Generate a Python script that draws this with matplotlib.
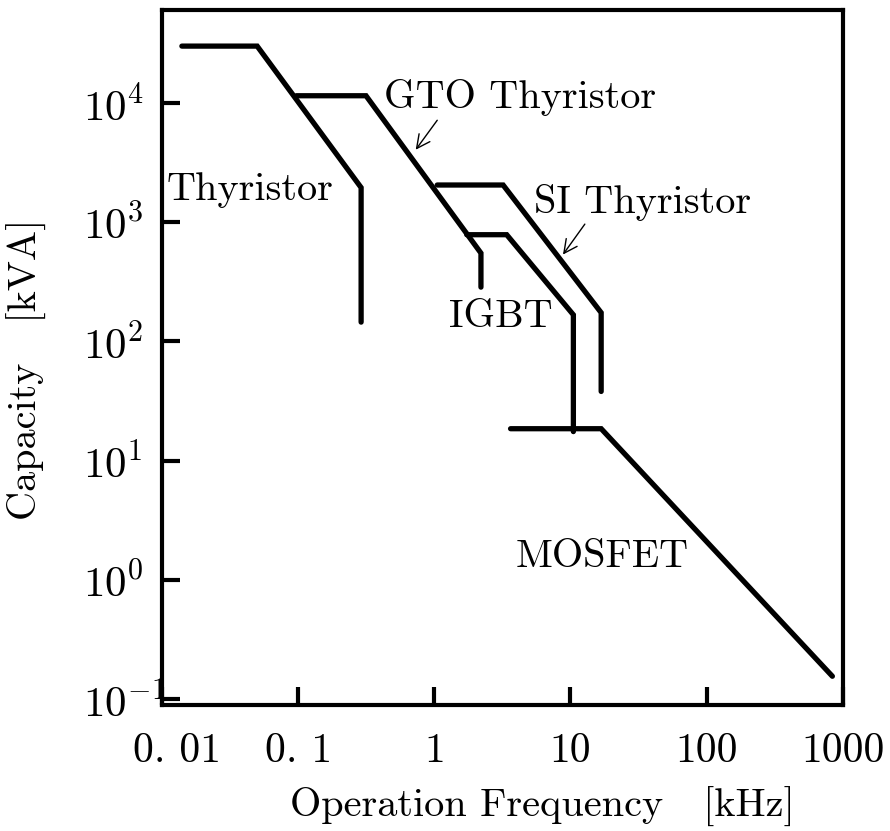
import matplotlib
matplotlib.use("Agg")
import matplotlib.pyplot as plt
import matplotlib.transforms as mtransforms
from matplotlib.ticker import FixedLocator, FixedFormatter, NullLocator

plt.rcParams['font.family'] = ['cmr10', 'DejaVu Serif']
plt.rcParams['mathtext.fontset'] = 'cm'
plt.rcParams['axes.unicode_minus'] = False

# ---- data (frequency in kHz, capacity in kVA) ----
thyristor_f = [0.014, 0.05, 0.29, 0.29]
thyristor_kva = [30000, 30000, 1950, 145]

gto_f = [0.097, 0.315, 2.2, 2.2]
gto_kva = [11500, 11500, 550, 285]

si_f = [1.05, 3.2, 16.8, 16.8]
si_kva = [2050, 2050, 174, 38]

igbt_f = [1.73, 3.4, 10.5, 10.5]
igbt_kva = [785, 785, 167, 17.5]

mosfet_f = [3.63, 16.8, 838]
mosfet_kva = [18.5, 18.5, 0.155]

x_ticks = [0.01, 0.1, 1, 10, 100, 1000]
x_ticklabels = ["0. 01", "0. 1", "1", "10", "100", "1000"]
y_ticks = [0.1, 1, 10, 100, 1000, 10000]
y_ticklabels = [r"$10^{-1}$", r"$10^{0}$", r"$10^{1}$", r"$10^{2}$", r"$10^{3}$", r"$10^{4}$"]

labels = ["Thyristor", "GTO Thyristor", "SI Thyristor", "IGBT", "MOSFET"]
label_f = [0.0109, 0.43, 5.36, 1.28, 3.95]
label_kva = [1540, 9080, 1197, 132, 1.29]

gto_arrow_tail = (1.08, 7480)
gto_arrow_head = (0.71, 3880)
si_arrow_tail = (13.1, 1006)
si_arrow_head = (8.57, 512)

# ---- figure ----
fig = plt.figure(figsize=(8.9, 8.31), dpi=100)
ax = fig.add_axes([0.182, 0.152, 0.765, 0.836])
ax.set_xscale('log')
ax.set_yscale('log')
ax.set_xlim(0.01, 1000)
ax.set_ylim(0.0895, 60300)

line_kw = dict(color='black', lw=3.8, solid_joinstyle='miter', solid_capstyle='round')
for fx, vy in [(thyristor_f, thyristor_kva), (gto_f, gto_kva), (si_f, si_kva),
               (igbt_f, igbt_kva), (mosfet_f, mosfet_kva)]:
    ax.plot(fx, vy, **line_kw)

for txt, fx, vy in zip(labels, label_f, label_kva):
    ax.text(fx, vy, txt, fontsize=29, ha='left', va='baseline', color='black')

arrow_kw = dict(arrowstyle='->', color='black', lw=1.0, mutation_scale=24)
ax.annotate('', xy=gto_arrow_head, xytext=gto_arrow_tail, arrowprops=arrow_kw)
ax.annotate('', xy=si_arrow_head, xytext=si_arrow_tail, arrowprops=arrow_kw)

# axes styling
for sp in ax.spines.values():
    sp.set_linewidth(3.0)
ax.xaxis.set_major_locator(FixedLocator(x_ticks))
ax.xaxis.set_major_formatter(FixedFormatter(x_ticklabels))
ax.yaxis.set_major_locator(FixedLocator(y_ticks))
ax.yaxis.set_major_formatter(FixedFormatter(y_ticklabels))
ax.xaxis.set_minor_locator(NullLocator())
ax.yaxis.set_minor_locator(NullLocator())
ax.tick_params(axis='both', which='major', direction='in', length=13, width=3.0,
               top=False, right=False)
ax.tick_params(axis='x', labelsize=30, pad=20)
ax.tick_params(axis='y', labelsize=31, pad=57)
for lab in ax.get_yticklabels():
    lab.set_ha('left')

first = ax.get_xticklabels()[0]
first.set_transform(first.get_transform() + mtransforms.ScaledTranslation(15/100, 0, fig.dpi_scale_trans))

ax.set_xlabel("Operation Frequency   [kHz]", fontsize=29)
ax.set_ylabel("Capacity   [kVA]", fontsize=29)
ax.xaxis.set_label_coords(0.558, -0.118)
ax.yaxis.set_label_coords(-0.169, 0.483)

fig.savefig("out.png", dpi=100)
